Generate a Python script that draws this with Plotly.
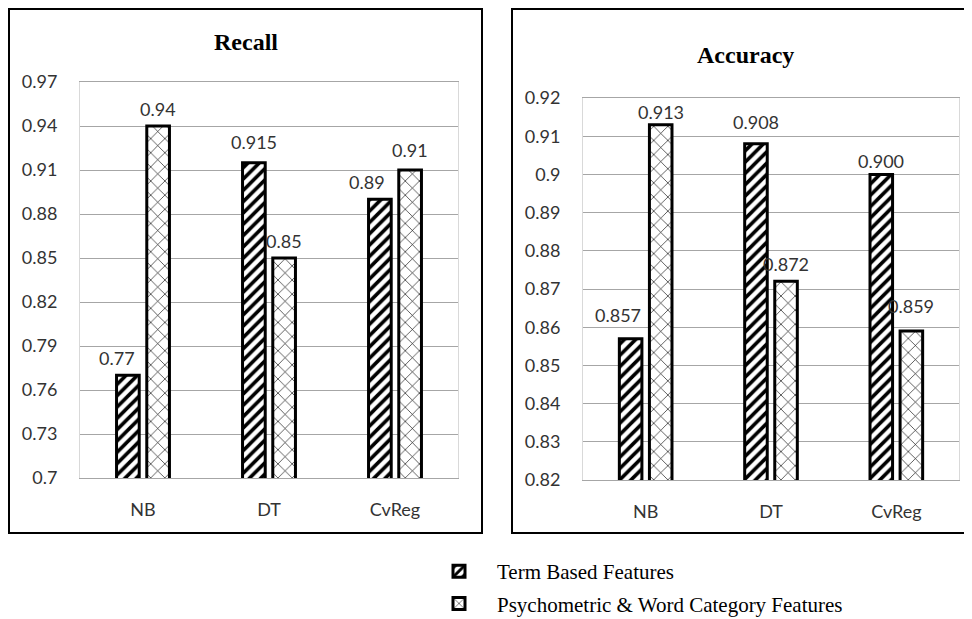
import plotly.graph_objects as go

categories = ["NB", "DT", "CvReg"]
series_names = ["Term Based Features", "Psychometric & Word Category Features"]
recall_term = [0.77, 0.915, 0.89]
recall_psych = [0.94, 0.85, 0.91]
accuracy_term = [0.857, 0.908, 0.900]
accuracy_psych = [0.913, 0.872, 0.859]
recall_ticks = [0.7, 0.73, 0.76, 0.79, 0.82, 0.85, 0.88, 0.91, 0.94, 0.97]
accuracy_ticks = [0.82, 0.83, 0.84, 0.85, 0.86, 0.87, 0.88, 0.89, 0.9, 0.91, 0.92]

# label nudges (pixels, x then y) to mimic the reference's collision-avoided data labels
recall_term_nudge = [(-11, 0), (0, 4), (-13, 0)]
recall_psych_nudge = [(0, 0), (0, 0), (0, 3)]
accuracy_term_nudge = [(-13, 7), (0, 5), (0, -4)]
accuracy_psych_nudge = [(0, -4), (0, 0), (0, 8)]

# page body has an 8px margin: size figure to fill the rest of the 972x619 window
OFF = 8
W, H = 972 - OFF, 619 - OFF

def X(px):
    return (px - OFF) / W

def Y(py):
    return 1 - (py - OFF) / H

LBL_FONT = dict(family="Lato", size=18, color="#333333")

term_pattern = dict(shape="/", fgcolor="black", bgcolor="white", size=8, solidity=0.45, fillmode="replace")
psych_pattern = dict(shape="x", fgcolor="black", bgcolor="white", size=10, solidity=0.12, fillmode="replace")
bar_line = dict(color="black", width=3)

BAR_HALF_SLOT = 15  # px offset of each bar from its category centre

fig = go.Figure()
annotations = []

def add_pair(term, psych, xa, ya, fmt, show, nudges):
    fig.add_trace(go.Bar(
        x=categories, y=term, name=series_names[0], xaxis=xa, yaxis=ya,
        marker=dict(color="white", pattern=term_pattern, line=bar_line),
        showlegend=show, legendgroup="a", cliponaxis=False))
    fig.add_trace(go.Bar(
        x=categories, y=psych, name=series_names[1], xaxis=xa, yaxis=ya,
        marker=dict(color="white", pattern=psych_pattern, line=bar_line),
        showlegend=show, legendgroup="b", cliponaxis=False))
    for vals, sign, nud in ((term, -1, nudges[0]), (psych, 1, nudges[1])):
        for c, v, (nx, ny) in zip(categories, vals, nud):
            annotations.append(dict(
                x=c, y=v, xref=xa, yref=ya, text=fmt(v), showarrow=False,
                xanchor="center", yanchor="middle",
                xshift=sign * BAR_HALF_SLOT + nx, yshift=17 + ny, font=LBL_FONT))

add_pair(recall_term, recall_psych, "x", "y", lambda v: f"{v:g}", True,
         (recall_term_nudge, recall_psych_nudge))
add_pair(accuracy_term, accuracy_psych, "x2", "y2", lambda v: f"{v:.3f}", False,
         (accuracy_term_nudge, accuracy_psych_nudge))

xcommon = dict(type="category", showgrid=False, showline=True, linecolor="#a6a6a6",
               linewidth=1, mirror=True, ticks="", ticklabelstandoff=15,
               tickfont=LBL_FONT, fixedrange=True, automargin=False)
ycommon = dict(showgrid=True, gridcolor="#a6a6a6", gridwidth=1, showline=True,
               linecolor="#d9d9d9", linewidth=1, mirror=True, ticks="",
               ticklabelstandoff=18, tickfont=LBL_FONT, zeroline=False, fixedrange=True,
               automargin=False)

annotations += [
    dict(text="<b>Recall</b>", xref="paper", yref="paper", x=X(246), y=Y(42),
         xanchor="center", yanchor="middle", showarrow=False,
         font=dict(family="Liberation Serif", size=24, color="black")),
    dict(text="<b>Accuracy</b>", xref="paper", yref="paper", x=X(745), y=Y(55),
         xanchor="center", yanchor="middle", showarrow=False,
         font=dict(family="Liberation Serif", size=24, color="black")),
]

fig.update_layout(
    width=W, height=H,
    margin=dict(l=0, r=0, t=0, b=0, autoexpand=False),
    paper_bgcolor="white", plot_bgcolor="white",
    barmode="group", bargap=0.52, bargroupgap=0.25,
    xaxis=dict(domain=[X(80), X(458)], anchor="y", **xcommon),
    yaxis=dict(domain=[Y(478), Y(82)], anchor="x", range=[0.7, 0.97],
               tickvals=recall_ticks, ticktext=[f"{t:g}" for t in recall_ticks], **ycommon),
    xaxis2=dict(domain=[X(583), X(959)], anchor="y2", **xcommon),
    yaxis2=dict(domain=[Y(480), Y(98)], anchor="x2", range=[0.82, 0.92],
                tickvals=accuracy_ticks, ticktext=[f"{t:g}" for t in accuracy_ticks], **ycommon),
    legend=dict(x=X(421), y=Y(551), xanchor="left", yanchor="top",
                font=dict(family="Liberation Serif", size=21, color="black"),
                bgcolor="rgba(0,0,0,0)", tracegroupgap=2, itemwidth=66,
                maxheight=200),
    shapes=[
        dict(type="rect", xref="paper", yref="paper", x0=X(9), x1=X(482),
             y0=Y(533), y1=Y(9), line=dict(color="black", width=2)),
        dict(type="rect", xref="paper", yref="paper", x0=X(512), x1=X(975),
             y0=Y(533), y1=Y(9), line=dict(color="black", width=2)),
    ],
    annotations=annotations,
)

fig.write_html("out.html")
